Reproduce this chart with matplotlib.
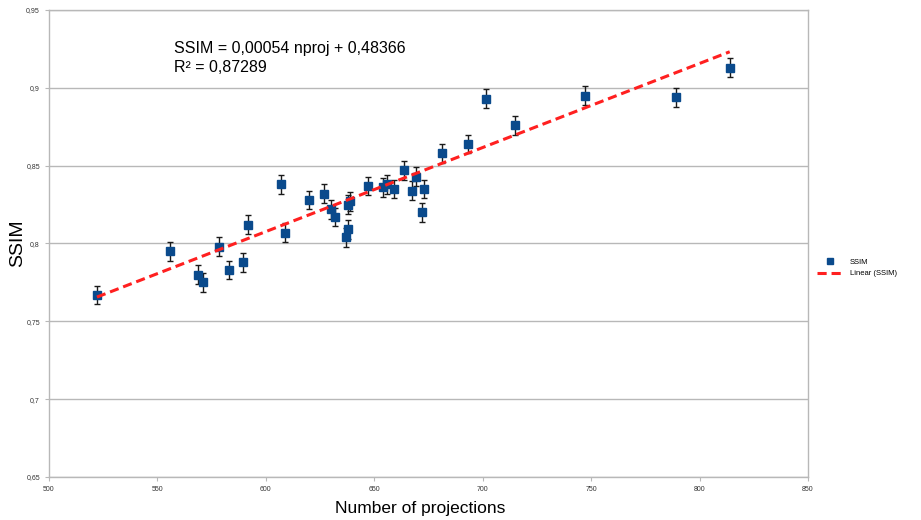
import matplotlib
matplotlib.use("Agg")
import matplotlib.pyplot as plt
import numpy as np
from matplotlib.lines import Line2D
from matplotlib.ticker import FuncFormatter

plt.rcParams["font.family"] = ["Liberation Sans", "DejaVu Sans"]

# data
nproj = [522.1, 555.8, 568.7, 571.0, 578.4, 583.0, 589.4, 591.7, 606.9, 608.8,
         619.8, 626.8, 630.0, 631.8, 636.9, 637.8, 637.8, 638.7, 647.0, 654.0,
         655.8, 659.0, 663.6, 667.3, 669.2, 671.9, 672.9, 681.2, 693.1, 701.4,
         714.8, 747.1, 789.0, 813.9]
ssim = [0.767, 0.795, 0.780, 0.775, 0.798, 0.783, 0.788, 0.812, 0.838, 0.807,
        0.828, 0.832, 0.822, 0.817, 0.804, 0.809, 0.825, 0.827, 0.837, 0.836,
        0.838, 0.835, 0.847, 0.834, 0.843, 0.820, 0.835, 0.858, 0.864, 0.893,
        0.876, 0.895, 0.894, 0.913]
ssim_err = 0.006
slope, intercept = 0.00054, 0.48366
r2 = 0.87289

x_ticks = [500, 550, 600, 650, 700, 750, 800, 850]
y_ticks = [0.65, 0.7, 0.75, 0.8, 0.85, 0.9, 0.95]

GRID = "#b8b8b8"
BLUE = "#0a4a8c"
RED = "#ff2020"
DASH = (0, (3, 1.6))

fig = plt.figure(figsize=(9.21, 5.2), dpi=100)
ax = fig.add_axes([49 / 921, 43 / 520, (808 - 49) / 921, (477 - 10) / 520])

ax.errorbar(nproj, ssim, yerr=ssim_err, fmt="s", color=BLUE, ms=5.5,
            ecolor="#1a1a1a", elinewidth=1.0, capsize=2.5, capthick=1.0, zorder=3)

xfit = np.array([min(nproj), max(nproj)])
ax.plot(xfit, slope * xfit + intercept, color=RED, ls=DASH, lw=2.2, zorder=4)

ax.set_xlim(500, 850)
ax.set_ylim(0.65, 0.95)
ax.set_xticks(x_ticks)
ax.set_yticks(y_ticks)
ax.yaxis.set_major_formatter(FuncFormatter(lambda v, p: f"{v:g}".replace(".", ",")))
ax.tick_params(labelsize=5, colors="#333333", length=3, width=0.8, color=GRID)
ax.grid(axis="y", color=GRID, lw=1.0)
ax.set_axisbelow(True)
for s in ax.spines.values():
    s.set_color(GRID)
    s.set_linewidth(1.0)

# axis titles placed in figure pixels
fig.text(18 / 921, 1 - 243 / 520, "SSIM", fontsize=14, rotation=90,
         ha="center", va="center")
fig.text(420 / 921, 1 - 509 / 520, "Number of projections", fontsize=12.5,
         ha="center", va="center")

# trend line equation
fig.text(174 / 921, 1 - 48 / 520,
         f"SSIM = {slope:.5f} nproj + {intercept:.5f}".replace(".", ","),
         fontsize=11.5, va="center", ha="left")
fig.text(174 / 921, 1 - 68 / 520, f"R² = {r2:.5f}".replace(".", ","),
         fontsize=11.5, va="center", ha="left")

handles = [
    Line2D([0], [0], ls="none", marker="s", color=BLUE, ms=4.5, label="SSIM"),
    Line2D([0], [0], color=RED, ls=DASH, lw=2.2, label="Linear (SSIM)"),
]
fig.legend(handles=handles, loc="center left",
           bbox_to_anchor=(810 / 921, 1 - 268 / 520), frameon=False,
           fontsize=5.5, handlelength=3.5, labelspacing=0.5)

fig.savefig("out.png", dpi=100)
